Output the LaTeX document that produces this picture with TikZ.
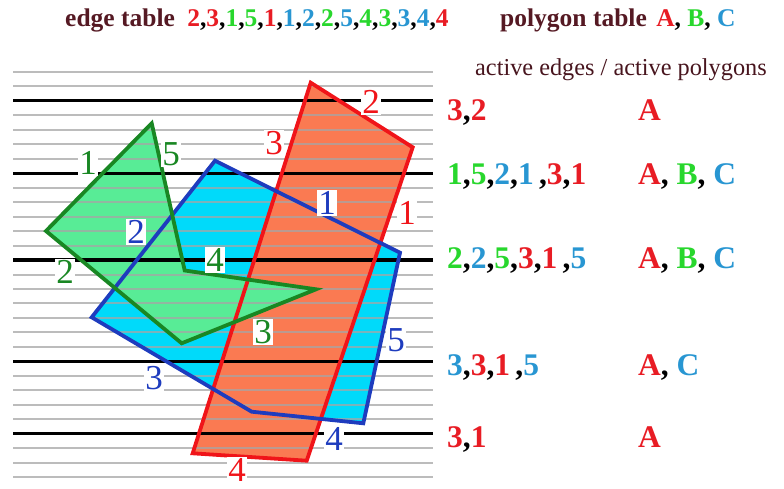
\documentclass[tikz,border=0pt]{standalone}
\usepackage{fontspec}
\setmainfont{Liberation Serif}
\usetikzlibrary{positioning}
\definecolor{headbrown}{RGB}{85,25,35}
\definecolor{numred}{RGB}{232,28,36}
\definecolor{numgreen}{RGB}{40,215,45}
\definecolor{numblue}{RGB}{40,150,210}
\definecolor{polyAfill}{RGB}{250,122,82}
\definecolor{polyBfill}{RGB}{88,236,150}
\definecolor{polyCfill}{RGB}{0,218,250}
\definecolor{polyAline}{RGB}{240,20,25}
\definecolor{polyBline}{RGB}{25,135,35}
\definecolor{polyCline}{RGB}{30,60,190}
\newcommand{\eR}[1]{\textcolor{numred}{#1}}
\newcommand{\eG}[1]{\textcolor{numgreen}{#1}}
\newcommand{\eB}[1]{\textcolor{numblue}{#1}}

\begin{document}
\begin{tikzpicture}[
    x=1pt, y=-1pt,
    scanline/.style={line width=2pt, gray!70, opacity=0.75},
    keyline/.style={line width=3.2pt, black},
    outline/.style={line width=3.8pt, line join=miter},
    edgelbl/.style={fill=white, inner sep=1pt, font=\fontsize{35}{35}\selectfont},
    headtxt/.style={inner sep=0pt, anchor=base west, font=\fontsize{25.5}{25.5}\selectfont\bfseries},
    rowtxt/.style={inner sep=0pt, anchor=base west, font=\fontsize{31.5}{31.5}\selectfont\bfseries}
]
    \useasboundingbox (0,0) rectangle (784,489);

    % Polygon corners
    \coordinate (a1) at (310.7,82.7);
    \coordinate (a2) at (412.7,147.3);
    \coordinate (a3) at (306.7,460.7);
    \coordinate (a4) at (192.7,453.3);
    \coordinate (c1) at (215,160.7);
    \coordinate (c2) at (400,252.7);
    \coordinate (c3) at (363.3,423.3);
    \coordinate (c4) at (251.7,411.7);
    \coordinate (c5) at (91.7,317.3);
    \coordinate (b1) at (151.7,123.3);
    \coordinate (b2) at (46,231);
    \coordinate (b3) at (181.7,343.3);
    \coordinate (b4) at (316,289.3);
    \coordinate (b5) at (184.7,270.5);

    % Fills
    \fill[polyCfill] (c1) -- (c2) -- (c3) -- (c4) -- (c5) -- cycle;
    \fill[polyAfill] (a1) -- (a2) -- (a3) -- (a4) -- cycle;
    \fill[polyBfill] (b1) -- (b2) -- (b3) -- (b4) -- (b5) -- cycle;

    % Scan lines
    \foreach \i in {0,...,28}
        \draw[scanline] (13,71.7+\i*14.486) -- (433,71.7+\i*14.486);
    \foreach \i in {2,7,13,20,25}
        \draw[keyline] (13,71.7+\i*14.486) -- (433,71.7+\i*14.486);

    % Outlines
    \draw[outline, polyAline] (a1) -- (a2) -- (a3) -- (a4) -- cycle;
    \draw[outline, polyCline] (c1) -- (c2) -- (c3) -- (c4) -- (c5) -- cycle;
    \draw[outline, polyBline] (b1) -- (b2) -- (b3) -- (b4) -- (b5) -- cycle;

    % Edge numbers
    \node[edgelbl, text=polyAline] (la1) at (407,213) {1};
    \node[edgelbl, text=polyAline] (la2) at (371,102) {2};
    \node[edgelbl, text=polyAline] (la3) at (274,143) {3};
    \node[edgelbl, text=polyAline] (la4) at (237,470) {4};
    \node[edgelbl, text=polyCline] (lc1) at (327,203) {1};
    \node[edgelbl, text=polyCline] (lc2) at (136,232) {2};
    \node[edgelbl, text=polyCline] (lc3) at (154,378) {3};
    \node[edgelbl, text=polyCline] (lc4) at (334,439) {4};
    \node[edgelbl, text=polyCline] (lc5) at (396,340) {5};
    \node[edgelbl, text=polyBline] (lb1) at (88,163) {1};
    \node[edgelbl, text=polyBline] (lb2) at (65,272) {2};
    \node[edgelbl, text=polyBline] (lb3) at (263,332) {3};
    \node[edgelbl, text=polyBline] (lb4) at (215,260) {4};
    \node[edgelbl, text=polyBline] (lb5) at (171,154) {5};

    % Tables
    \node[headtxt, text=headbrown] (edgetab) at (65,27) {edge table};
    \node[headtxt, right=12pt of edgetab.base east, anchor=base west] (edgelist)
        {\eR{2},\eR{3},\eG{1},\eG{5},\eR{1},\eB{1},\eB{2},\eG{2},\eB{5},\eG{4},\eG{3},\eB{3},\eB{4},\eR{4}};
    \node[headtxt, text=headbrown] (polytab) at (500,27) {polygon table};
    \node[headtxt, right=9pt of polytab.base east, anchor=base west] (polylist)
        {\eR{A}, \eG{B}, \eB{C}};
    \node[inner sep=0pt, anchor=base west, text=headbrown!85!black, font=\fontsize{24.3}{24.3}\selectfont] (activehead) at (475,76) {active edges / active polygons};

    % Active edges and polygons per key line
    \node[rowtxt] (edges1) at (447,121) {\eR{3},\eR{2}};
    \node[rowtxt] (edges2) at (447,185) {\eG{1},\eG{5},\eB{2},\eB{1}\,,\eR{3},\eR{1}};
    \node[rowtxt] (edges3) at (447,268) {\eG{2},\eB{2},\eG{5},\eR{3},\eR{1}\,,\eB{5}};
    \node[rowtxt] (edges4) at (447,375) {\eB{3},\eR{3},\eR{1}\,,\eB{5}};
    \node[rowtxt] (edges5) at (447,447) {\eR{3},\eR{1}};
    \node[rowtxt] (polys1) at (638,121) {\eR{A}};
    \node[rowtxt] (polys2) at (638,185) {\eR{A}, \eG{B}, \eB{C}};
    \node[rowtxt] (polys3) at (638,268) {\eR{A}, \eG{B}, \eB{C}};
    \node[rowtxt] (polys4) at (638,375) {\eR{A}, \eB{C}};
    \node[rowtxt] (polys5) at (638,447) {\eR{A}};
\end{tikzpicture}
\end{document}
